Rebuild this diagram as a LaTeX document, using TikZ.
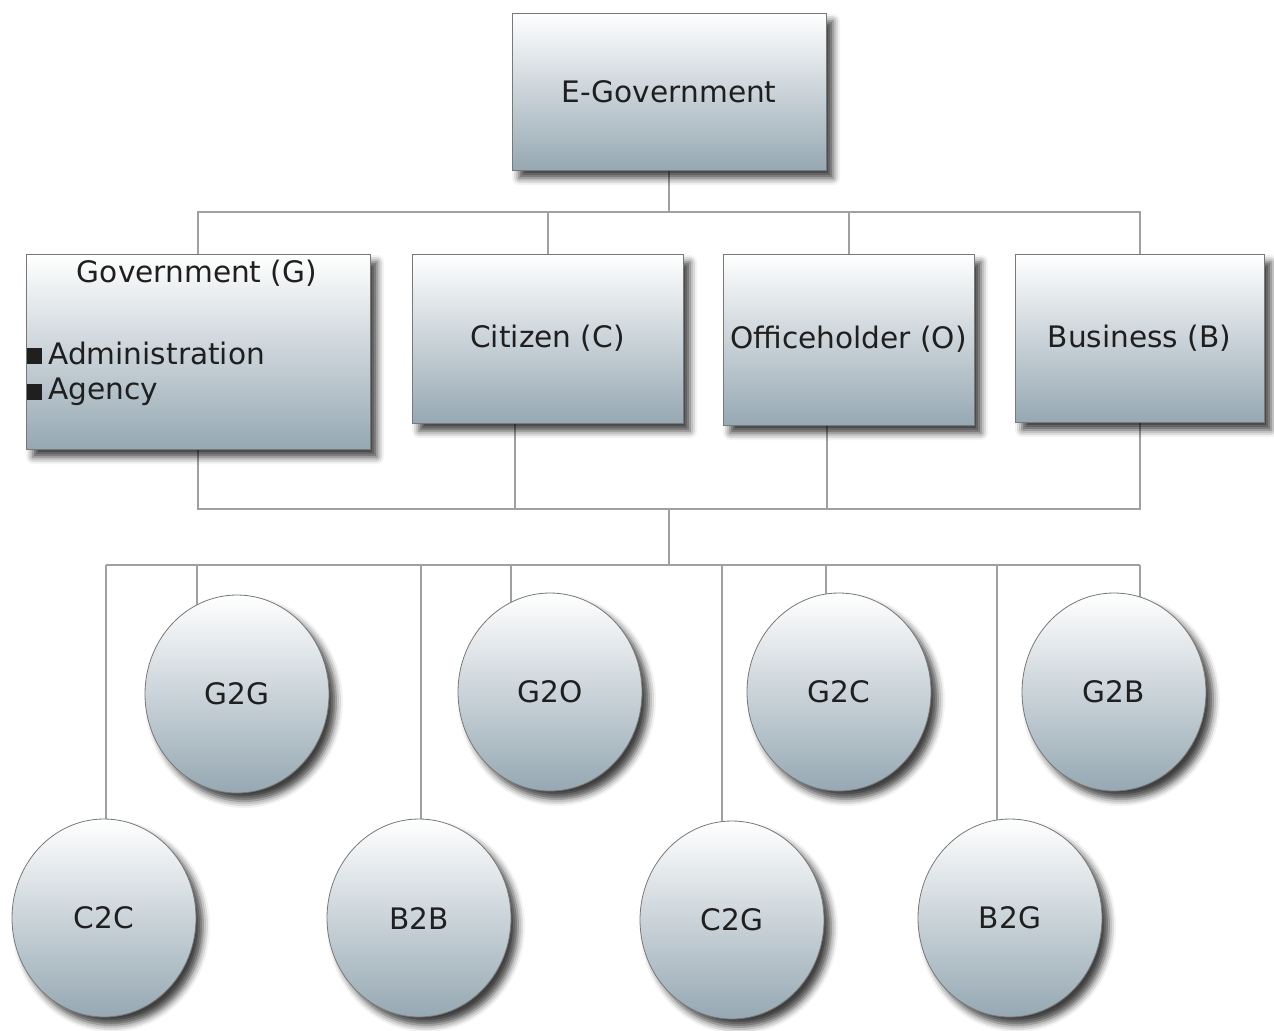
\documentclass[tikz,border=0pt]{standalone}
\usepackage{fontspec}
\setmainfont{DejaVu Sans}
\usetikzlibrary{shapes.geometric,shadows.blur,backgrounds,positioning}

\definecolor{midgray}{RGB}{214,221,224}
\definecolor{lowgray}{RGB}{150,168,179}
\definecolor{linkgray}{RGB}{160,160,160}
\definecolor{edgegray}{RGB}{120,120,120}
\newcommand{\bulletsq}{\rule{7.5pt}{8pt}\hspace{3pt}}

\begin{document}
\begin{tikzpicture}[x=0.5pt,y=-0.5pt,
	label text/.style={font=\fontsize{14.8}{18}\selectfont,text=black!88},
	box node/.style={rectangle,draw=edgegray,thin,label text,
		top color=white,middle color=midgray,bottom color=lowgray,
		blur shadow={shadow xshift=3.5pt,shadow yshift=-4pt,shadow blur radius=3.5pt,shadow opacity=75}},
	ring node/.style={ellipse,draw=edgegray,thin,label text,inner sep=0pt,
		minimum width=92pt,minimum height=99pt,
		top color=white,middle color=midgray,bottom color=lowgray,
		blur shadow={shadow xshift=3.5pt,shadow yshift=-4pt,shadow blur radius=3.5pt,shadow opacity=75}},
	plain text/.style={label text,inner sep=0pt},
	link/.style={draw=linkgray,line width=1pt}
]
	\useasboundingbox (0,0) rectangle (1274,1030);

	% boxes
	\node[box node,minimum width=157pt,minimum height=78.5pt] (egov) at (669,91.5) {E-Government};
	\node[box node,minimum width=172pt,minimum height=97.5pt] (gov) at (198,351.5) {};
	\node[box node,minimum width=135.5pt,minimum height=84.5pt] (cit) at (547.5,338.5) {Citizen (C)};
	\node[box node,minimum width=125.5pt,minimum height=85.5pt] (off) at (848.5,339.5) {Officeholder (O)};
	\node[box node,minimum width=124.5pt,minimum height=84pt] (bus) at (1139.5,338) {Business (B)};

	\node[plain text] (govtitle) at (197,273) {Government (G)};
	\node[plain text,anchor=west] (admin) at (27,353) {\bulletsq Administration};
	\node[plain text,anchor=west] (agency) at (27,392) {\bulletsq Agency};

	% circles
	\foreach \nm/\lab/\cx/\cy in {c2c/C2C/104/918, g2g/G2G/237/694, b2b/B2B/419/918, g2o/G2O/550/692,
		c2g/C2G/732/920, g2c/G2C/839/692, b2g/B2G/1010/918, g2b/G2B/1114/692}
		\node[ring node] (\nm) at (\cx,\cy) {\lab};

	% connectors
	\begin{scope}[on background layer]
		\draw[link] (egov.south) -- (669,212) coordinate (topbus);
		\draw[link] (gov.north) |- (topbus) -| (bus.north);
		\draw[link] (cit.north) -- (cit.north |- topbus);
		\draw[link] (off.north) -- (off.north |- topbus);

		\coordinate (midbus) at (669,509);
		\draw[link] (gov.south) |- (midbus) -| (bus.south);
		\draw[link] ([xshift=-16.5pt]cit.south) -- ([xshift=-16.5pt]cit.south |- midbus);
		\draw[link] ([xshift=-11pt]off.south) -- ([xshift=-11pt]off.south |- midbus);
		\draw[link] (midbus) -- (669,565) coordinate (lowbus);

		\draw[link] ([xshift=1pt]c2c.center |- lowbus) -- ([xshift=13pt]g2b.center |- lowbus);
		\foreach \nm/\dx in {c2c/1pt, g2g/-20pt, b2b/1pt, g2o/-19.5pt, c2g/-5pt, g2c/-6.5pt, b2g/-6.5pt, g2b/13pt}
			\draw[link] ([xshift=\dx]\nm.center) -- ([xshift=\dx]\nm.center |- lowbus);
	\end{scope}
\end{tikzpicture}
\end{document}
